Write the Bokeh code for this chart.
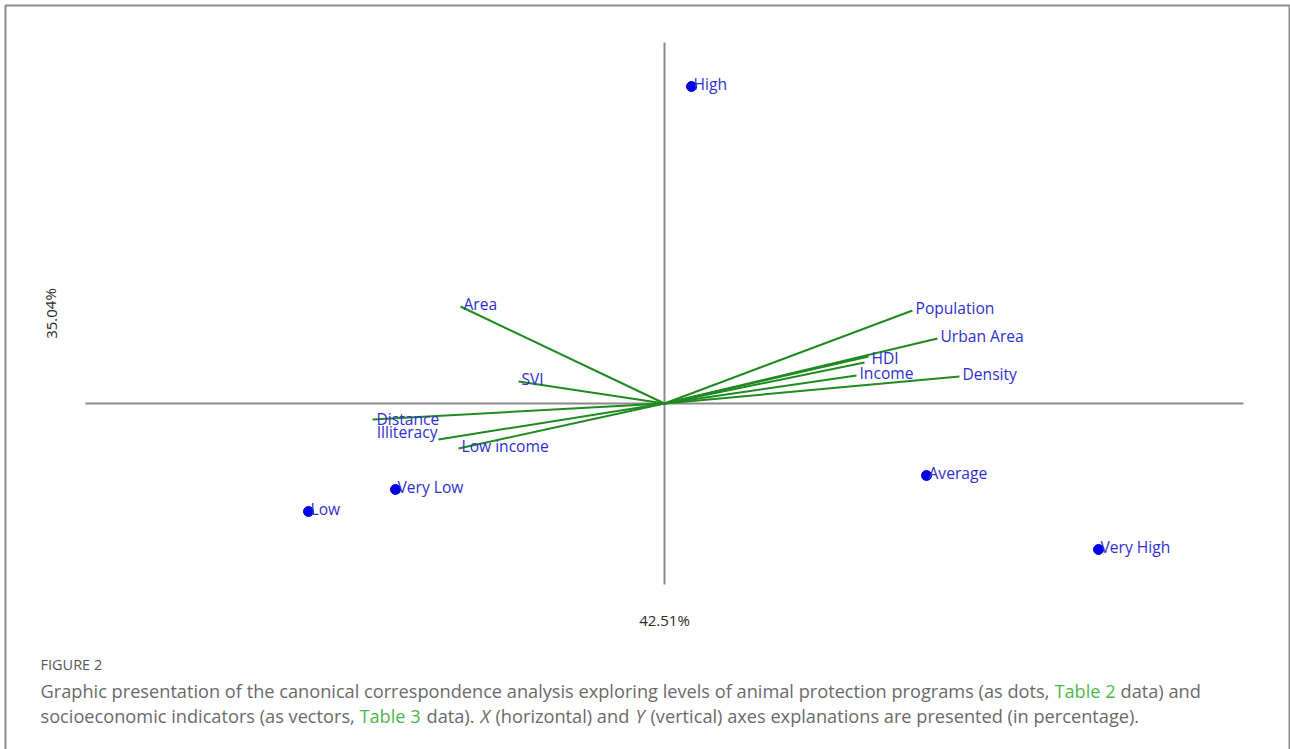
from bokeh.plotting import figure
from bokeh.models import ColumnDataSource, Label, Range1d, BoxAnnotation
from bokeh.core.properties import value
from bokeh.embed import file_html
from bokeh.resources import INLINE

# ---- data (CCA biplot scores) ----
level_names = ["High", "Average", "Very High", "Very Low", "Low"]
level_x = [0.135, 1.31, 2.17, -1.345, -1.78]
level_y = [1.585, -0.36, -0.73, -0.43, -0.54]

vector_names = ["Area", "SVI", "Distance", "Illiteracy", "Low income",
                "Population", "Urban Area", "HDI", "", "Income", "Density"]
vector_x = [-1.02, -0.73, -1.46, -1.13, -1.03, 1.24, 1.365, 1.02, 1.0, 0.96, 1.475]
vector_y = [0.485, 0.11, -0.08, -0.18, -0.225, 0.465, 0.325, 0.235, 0.205, 0.14, 0.135]

axis_x_extent = [-2.895, 2.895]
axis_y_extent = [-0.905, 1.805]
x_axis_title = "42.51%"
y_axis_title = "35.04%"

# ---- styling / geometry ----
W, H = 1290, 749
SCALE = 200.0              # px per unit
OX, OY = 664, 403          # origin in canvas px (from left / from top)

def px2x(px):
    return (px - OX) / SCALE

def py2y(py):
    return (OY - py) / SCALE

label_font = value("Open Sans")
label_color = "#2f2fd0"
green = "#1f8a1f"

p = figure(width=W, height=H, output_backend="svg", toolbar_location=None,
           x_range=Range1d(px2x(0), px2x(W)),
           y_range=Range1d(py2y(H), py2y(0)),
           min_border=0, min_border_left=0, min_border_right=0,
           min_border_top=0, min_border_bottom=0)
p.axis.visible = False
p.grid.visible = False
p.outline_line_color = None
p.background_fill_color = "white"
p.border_fill_color = "white"

# page frame (bottom edge lies below the window)
p.add_layout(BoxAnnotation(left=px2x(5), right=px2x(1289), top=py2y(5), bottom=py2y(770),
                           fill_color=None, fill_alpha=0, line_color="#8c8c8c",
                           line_width=2, line_alpha=1))

# axes crossing at origin
p.segment(x0=[axis_x_extent[0], 0], y0=[0, axis_y_extent[0]],
          x1=[axis_x_extent[1], 0], y1=[0, axis_y_extent[1]],
          line_color="#8a8a8a", line_width=2)

# vectors
n = len(vector_names)
vx_off = [3] * n
vy_off = [-3] * n
valign = ["left"] * n
i_ill = vector_names.index("Illiteracy")
vx_off[i_ill] = -1
vy_off[i_ill] = -8
valign[i_ill] = "right"
i_dist = vector_names.index("Distance")
vx_off[i_dist] = 4
vy_off[i_dist] = -1
i_hdi = vector_names.index("HDI")
vy_off[i_hdi] = 1

vsrc = ColumnDataSource(dict(x0=[0] * n, y0=[0] * n,
                             x=vector_x, y=vector_y, name=vector_names,
                             xo=vx_off, yo=vy_off, al=valign))
p.segment(x0="x0", y0="y0", x1="x", y1="y", source=vsrc,
          line_color=green, line_width=2)
p.text(x="x", y="y", text="name", source=vsrc, x_offset="xo", y_offset="yo",
       text_align="al", text_baseline="middle", text_font=label_font,
       text_font_size="15.6px", text_color=label_color)

# level points
lsrc = ColumnDataSource(dict(x=level_x, y=level_y, name=level_names))
p.scatter(x="x", y="y", source=lsrc, size=10, fill_color="#0000e6",
          line_color="#0000e6")
p.text(x="x", y="y", text="name", source=lsrc, x_offset=2, y_offset=-3,
       text_align="left", text_baseline="middle", text_font=label_font,
       text_font_size="15.6px", text_color=label_color)

# axis titles
p.add_layout(Label(x=0, y=H - 619, x_units="data", y_units="screen",
                   text=x_axis_title, text_align="center", text_baseline="middle",
                   text_font="Open Sans", text_font_size="15px", text_color="#2a2a2a"))
p.add_layout(Label(x=px2x(50), y=H - 313, x_units="data", y_units="screen",
                   text=y_axis_title, angle=1.5708, text_align="center",
                   text_baseline="middle", text_font="Open Sans",
                   text_font_size="15px", text_color="#2a2a2a"))

# caption
cap_gray = "#6a6a6a"
cap_green = "#4cb84c"
def cap(xpage, ypage, text, color=cap_gray, size="18.2px", style="normal"):
    p.add_layout(Label(x=px2x(xpage), y=H - ypage, x_units="data", y_units="screen",
                       text=text, text_align="left", text_baseline="middle",
                       text_font="Open Sans", text_font_size=size,
                       text_color=color, text_font_style=style))

cap(40, 664, "FIGURE 2", color="#585858", size="14.5px")
cap(40, 690, "Graphic presentation of the canonical correspondence analysis exploring levels of animal protection programs (as dots,")
cap(1054, 690, "Table 2", color=cap_green)
cap(1120, 690, "data) and")
cap(40, 715, "socioeconomic indicators (as vectors,")
cap(359, 715, "Table 3", color=cap_green)
cap(426, 715, "data).")
cap(480, 715, "X", style="italic")
cap(495, 715, "(horizontal) and")
cap(635, 715, "Y", style="italic")
cap(650, 715, "(vertical) axes explanations are presented (in percentage).")

open("out.html", "w").write(file_html(p, INLINE))
